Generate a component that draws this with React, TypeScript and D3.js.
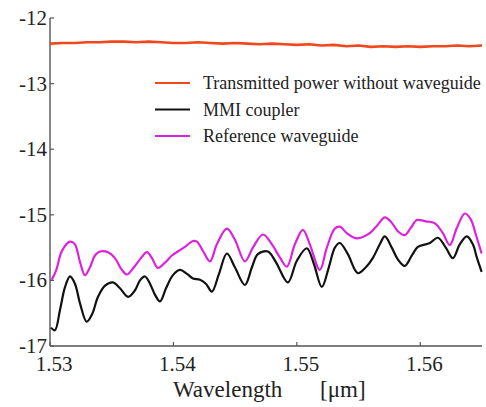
import React from "react";
import * as d3 from "d3";

const xTicks = [1.53, 1.54, 1.55, 1.56];
const yTicks = [-12, -13, -14, -15, -16, -17];

const legendLabels = ["Transmitted power without waveguide", "MMI coupler", "Reference waveguide"];
const seriesColors = ["#f2471c", "#111111", "#dd22dd"];

const orangeLambda = [
  1.530, 1.531, 1.532, 1.533, 1.534, 1.535, 1.536, 1.537, 1.538, 1.539, 1.540, 1.541,
  1.542, 1.543, 1.544, 1.545, 1.546, 1.547, 1.548, 1.549, 1.550, 1.551, 1.552, 1.553,
  1.554, 1.555, 1.556, 1.557, 1.558, 1.559, 1.560, 1.561, 1.562, 1.563, 1.564, 1.565,
];
const orangeValues = [
  -12.39, -12.38, -12.38, -12.37, -12.37, -12.36, -12.36, -12.37, -12.36, -12.37, -12.38, -12.38,
  -12.37, -12.38, -12.39, -12.38, -12.39, -12.40, -12.39, -12.40, -12.41, -12.40, -12.42, -12.41,
  -12.43, -12.42, -12.44, -12.43, -12.44, -12.43, -12.44, -12.43, -12.43, -12.42, -12.43, -12.42,
];

const mmiLambda = [
  1.53008, 1.5304, 1.53081, 1.53122, 1.53162, 1.53202, 1.53243, 1.53297, 1.5334, 1.53389,
  1.53446, 1.5351, 1.53567, 1.53632, 1.53689, 1.53729, 1.53769, 1.5381, 1.53851, 1.53891,
  1.5394, 1.53996, 1.54053, 1.5411, 1.54158, 1.54215, 1.54263, 1.54312, 1.54369, 1.54433,
  1.54498, 1.54579, 1.54636, 1.54684, 1.54765, 1.5483, 1.54927, 1.55, 1.55081, 1.55138,
  1.55202, 1.55259, 1.55308, 1.55348, 1.55413, 1.55494, 1.55559, 1.55615, 1.55672, 1.55713,
  1.55769, 1.55818, 1.55874, 1.55932, 1.5598, 1.56078, 1.56142, 1.56207, 1.56264, 1.5632,
  1.56377, 1.56426, 1.56458, 1.56497,
];
const mmiValues = [
  -16.72, -16.76, -16.45, -16.1, -15.94, -16.05, -16.35, -16.63, -16.52, -16.25,
  -16.08, -16.03, -16.12, -16.25, -16.15, -16.0, -15.94, -16.05, -16.22, -16.32,
  -16.12, -15.92, -15.84, -15.9, -15.97, -15.99, -16.05, -16.17, -15.9, -15.59,
  -15.8, -16.07, -15.8, -15.6, -15.56, -15.72, -16.03, -15.7, -15.51, -15.75,
  -16.1, -15.8, -15.5, -15.43, -15.6, -15.89, -15.8, -15.66, -15.45, -15.33,
  -15.5, -15.68, -15.78, -15.62, -15.49, -15.43, -15.35, -15.5, -15.66, -15.45,
  -15.33, -15.45, -15.65, -15.87,
];

const refLambda = [
  1.53014, 1.53049, 1.53097, 1.53162, 1.53202, 1.53243, 1.53283, 1.53324, 1.53364, 1.53405,
  1.5347, 1.53526, 1.53575, 1.53623, 1.53672, 1.53729, 1.53785, 1.53826, 1.53874, 1.53931,
  1.53988, 1.54036, 1.54093, 1.54158, 1.5419, 1.54239, 1.54296, 1.54352, 1.54433, 1.54498,
  1.54579, 1.54644, 1.54725, 1.54798, 1.54862, 1.54919, 1.54984, 1.55049, 1.55105, 1.55186,
  1.55243, 1.55308, 1.55348, 1.55405, 1.55486, 1.55591, 1.55656, 1.55713, 1.55769, 1.55818,
  1.55874, 1.55923, 1.55972, 1.56045, 1.56118, 1.56183, 1.56239, 1.56296, 1.56361, 1.56409,
  1.5645, 1.56497,
];
const refValues = [
  -15.99, -15.85, -15.55, -15.41, -15.45, -15.72, -15.92, -15.8, -15.62, -15.56,
  -15.57, -15.66, -15.82, -15.91, -15.82, -15.68, -15.57, -15.66, -15.81, -15.73,
  -15.62, -15.56, -15.49, -15.4, -15.41, -15.55, -15.71, -15.45, -15.21, -15.38,
  -15.71, -15.5, -15.3, -15.45, -15.65, -15.79, -15.45, -15.23, -15.45, -15.84,
  -15.5, -15.21, -15.18, -15.28, -15.36, -15.28, -15.15, -15.04, -15.12, -15.25,
  -15.31, -15.2, -15.08, -15.1, -15.13, -15.28, -15.46, -15.2, -14.98, -15.07,
  -15.3, -15.59,
];

const W = 486;
const H = 407;
const FONT = '"Liberation Serif", "DejaVu Serif", serif';

export default function App() {
  const x = d3.scaleLinear().domain([1.53, 1.565]).range([50, 482]);
  const y = d3.scaleLinear().domain([-17, -12]).range([346, 18]);

  const lineLinear = d3
    .line<[number, number]>()
    .x((d) => x(d[0]))
    .y((d) => y(d[1]));
  const lineSmooth = d3
    .line<[number, number]>()
    .x((d) => x(d[0]))
    .y((d) => y(d[1]))
    .curve(d3.curveCatmullRom.alpha(0.5));

  const zip = (a: number[], b: number[]) => a.map((v, i) => [v, b[i]] as [number, number]);

  const orangePath = lineLinear(zip(orangeLambda, orangeValues)) || "";
  const mmiPath = lineSmooth(zip(mmiLambda, mmiValues)) || "";
  const refPath = lineSmooth(zip(refLambda, refValues)) || "";

  const axisColor = "#555";
  const [x0, x1] = x.range();
  const [yBottom, yTop] = y.range();

  const legendY = [83, 109.5, 136];
  const textStyle = { fontFamily: FONT };

  return (
    <svg
      width={W}
      height={H}
      viewBox={`0 0 ${W} ${H}`}
      style={{ position: "absolute", left: 0, top: 0, background: "#fff", fontFamily: FONT }}
    >
      <rect x={0} y={0} width={W} height={H} fill="#fff" />

      <line x1={x0} x2={x0} y1={yTop} y2={yBottom} stroke={axisColor} strokeWidth={1.4} />
      <line x1={x0} x2={x1} y1={yBottom} y2={yBottom} stroke={axisColor} strokeWidth={1.4} />

      {yTicks.map((t) => (
        <g key={`y${t}`}>
          <line x1={x0} x2={x0 + 4} y1={y(t)} y2={y(t)} stroke={axisColor} strokeWidth={1.2} />
          <text x={x0 - 3} y={y(t) + 7} textAnchor="end" fontSize={21} fill="#222" style={textStyle}>
            {t}
          </text>
        </g>
      ))}

      {xTicks.map((t) => (
        <g key={`x${t}`}>
          <line x1={x(t)} x2={x(t)} y1={yBottom} y2={yBottom - 4} stroke={axisColor} strokeWidth={1.2} />
          <text x={x(t) + 4} y={371} textAnchor="middle" fontSize={21} fill="#222" style={textStyle}>
            {t.toFixed(2)}
          </text>
        </g>
      ))}

      <text x={173} y={397} fontSize={23} fill="#222" style={textStyle}>
        Wavelength
      </text>
      <text x={320} y={397} fontSize={23} fill="#222" style={textStyle}>
        [μm]
      </text>

      <path d={refPath} fill="none" stroke={seriesColors[2]} strokeWidth={2.2} strokeLinejoin="round" />
      <path d={mmiPath} fill="none" stroke={seriesColors[1]} strokeWidth={2.2} strokeLinejoin="round" />
      <path d={orangePath} fill="none" stroke={seriesColors[0]} strokeWidth={2.6} strokeLinejoin="round" />

      {legendLabels.map((label, i) => (
        <g key={label}>
          <line x1={155} x2={190} y1={legendY[i]} y2={legendY[i]} stroke={seriesColors[i]} strokeWidth={2.2} />
          <text x={203} y={legendY[i] + 6} fontSize={18} fill="#222" style={textStyle}>
            {label}
          </text>
        </g>
      ))}
    </svg>
  );
}
